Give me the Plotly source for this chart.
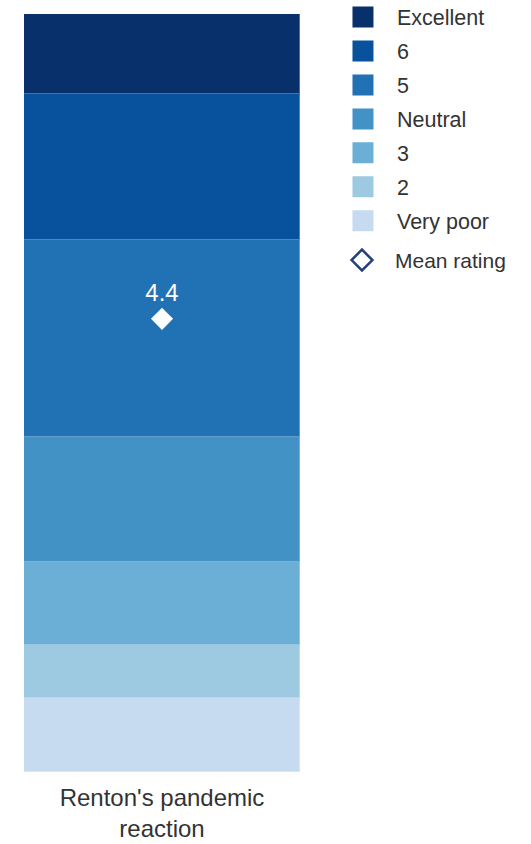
import plotly.graph_objects as go

categories = ["Renton's pandemic<br>reaction"]
levels = ["Very poor", "2", "3", "Neutral", "5", "6", "Excellent"]
shares = [9.8, 6.9, 11.0, 16.5, 26.0, 19.3, 10.5]
colors = ["#c6dbef", "#9ecae1", "#6baed6", "#4292c6", "#2171b5", "#08519c", "#08306b"]
mean_rating = [4.4]

fig = go.Figure()
for lvl, val, col in zip(levels, shares, colors):
    fig.add_trace(go.Bar(
        x=categories, y=[val], name=lvl, showlegend=False,
        marker=dict(color=col, line=dict(color="rgba(255,255,255,0.3)", width=1)),
        hoverinfo="name+y",
    ))

# legend-only swatches (top item = Excellent)
for i, (lvl, col) in enumerate(reversed(list(zip(levels, colors)))):
    fig.add_trace(go.Scatter(
        x=[None], y=[None], mode="markers", name=lvl, legendgroup=lvl,
        marker=dict(symbol="square", size=16, color=col, line=dict(color=col, width=5)),
        legendrank=i + 1,
    ))

fig.add_trace(go.Scatter(
    x=categories, y=mean_rating, yaxis="y2", mode="markers+text",
    text=[f"{v:.1f}" for v in mean_rating], textposition="top center",
    textfont=dict(color="white", size=24, family="Liberation Sans, Arial"),
    marker=dict(symbol="diamond", size=17, color="white"),
    showlegend=False, hoverinfo="y",
))
fig.add_trace(go.Scatter(
    x=[None], y=[None], yaxis="y2", mode="markers", name="Mean rating", legend="legend2",
    marker=dict(symbol="diamond-open", size=16, color="#253f7e", line=dict(width=2.5, color="#253f7e")),
))

fig.update_layout(
    width=531, height=844,
    margin=dict(l=24, r=231, t=14, b=72, autoexpand=False),
    barmode="stack", bargap=0,
    paper_bgcolor="white", plot_bgcolor="white",
    font=dict(family="Liberation Sans, Arial, sans-serif", color="#333"),
    xaxis=dict(showgrid=False, zeroline=False, showline=False, ticks="",
               ticklabelstandoff=9,
               tickfont=dict(size=24, color="#333")),
    yaxis=dict(range=[0, 100], visible=False),
    yaxis2=dict(range=[0, 7.36], overlaying="y", visible=False),
    legend=dict(x=1.105, y=1.023, xanchor="left", yanchor="top",
                itemwidth=58, tracegroupgap=3, traceorder="grouped",
                font=dict(size=21.5, color="#333"), bgcolor="rgba(0,0,0,0)"),
    legend2=dict(x=1.105, y=0.702, xanchor="left", yanchor="top",
                 itemwidth=56, font=dict(size=21, color="#333"), bgcolor="rgba(0,0,0,0)"),
)

fig.write_html("out.html")
